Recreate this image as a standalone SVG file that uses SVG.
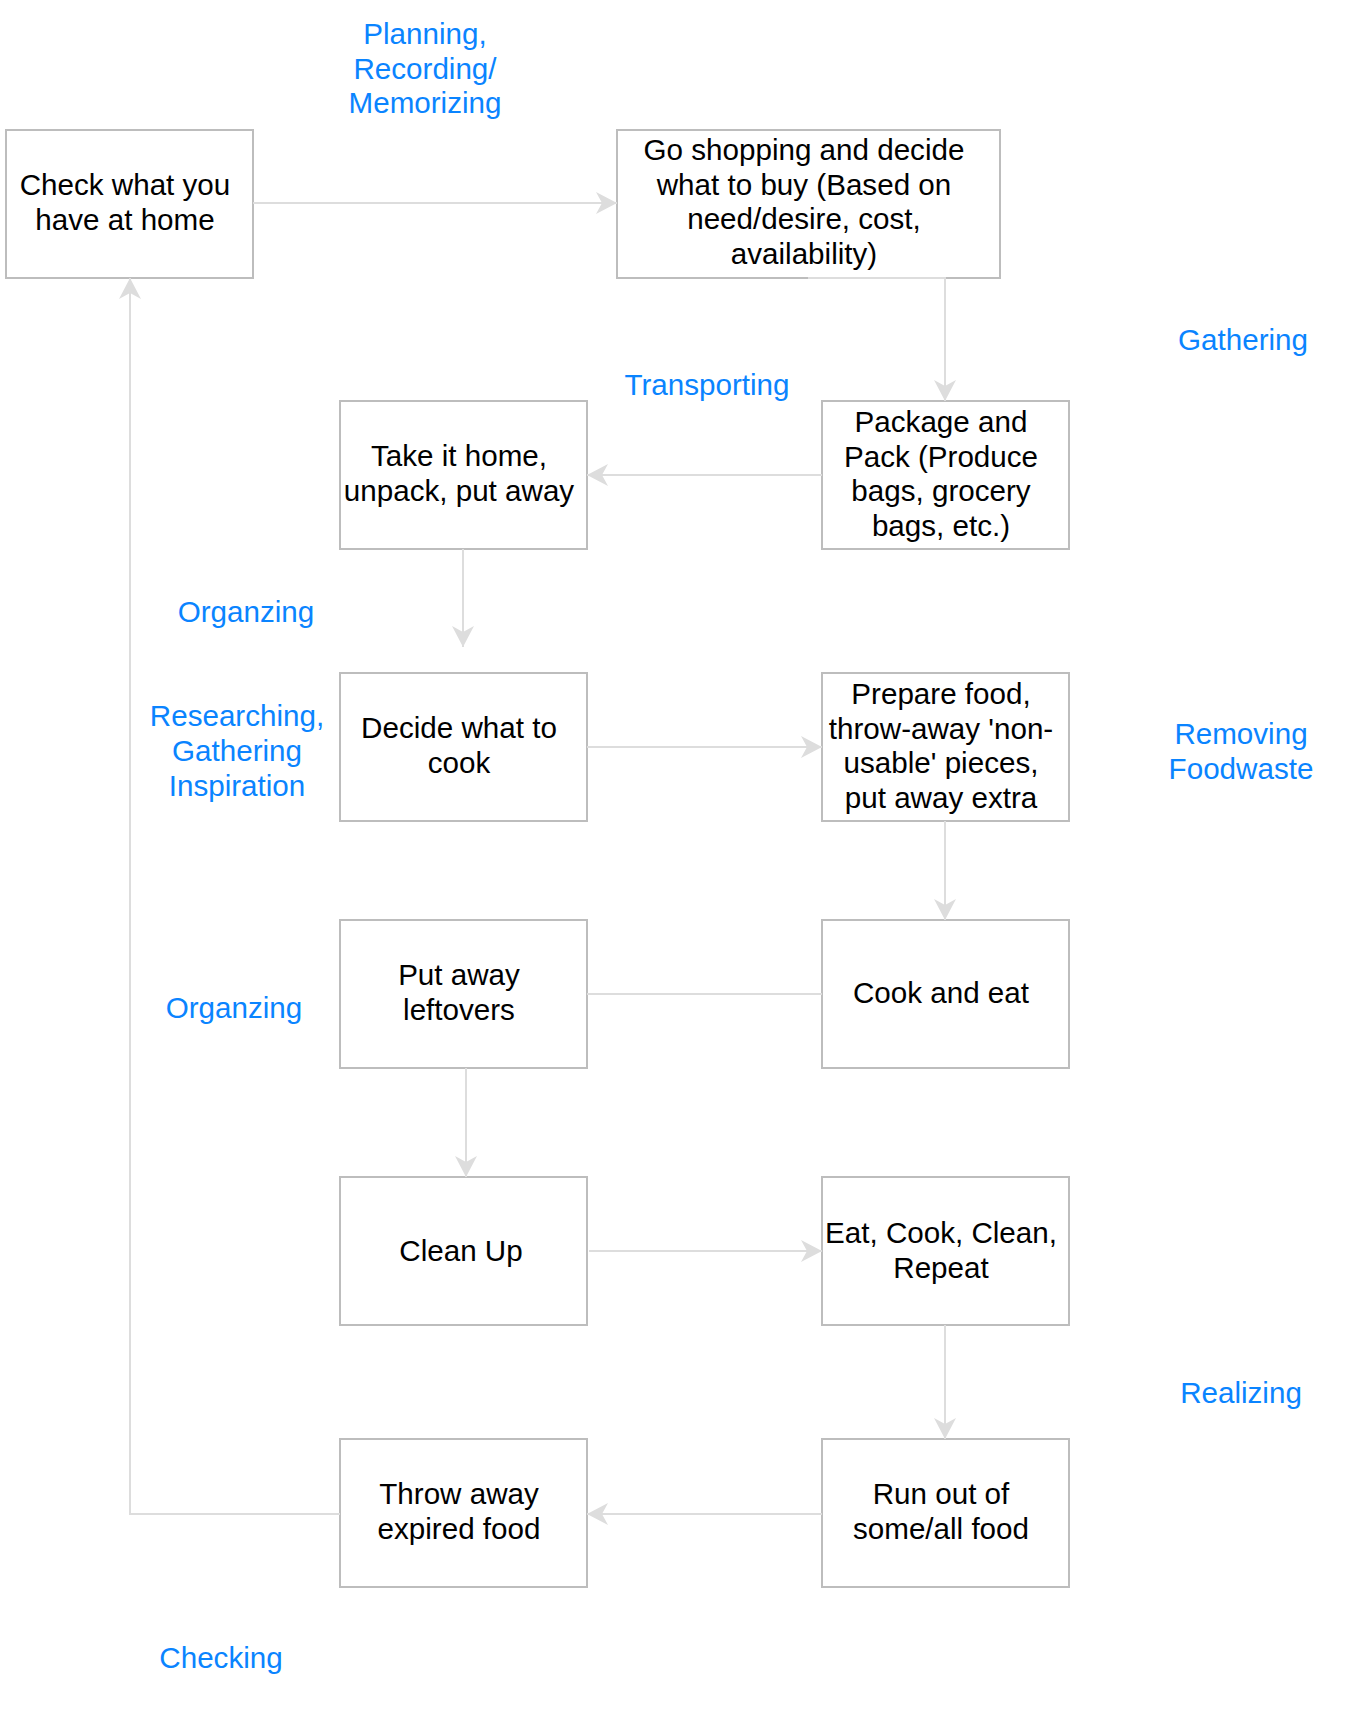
<svg xmlns="http://www.w3.org/2000/svg" width="1367" height="1720" viewBox="0 0 1367 1720">
<style>
.box{fill:#ffffff;stroke:#bdbdbd;stroke-width:2}
.t{font-family:"Liberation Sans",Arial,sans-serif;font-size:29.6px;fill:#000000;text-anchor:middle}
.lbl{font-family:"Liberation Sans",Arial,sans-serif;font-size:29.6px;fill:#0a84ff;text-anchor:middle}
.c{fill:none;stroke:#dddddd;stroke-width:2}
</style>
<defs>
<marker id="arr" markerUnits="userSpaceOnUse" markerWidth="24" markerHeight="24" refX="21" refY="11" orient="auto" viewBox="0 0 24 22">
<path d="M21,11 L0,0 L6,11 L0,22 Z" fill="#dddddd"/>
</marker>
</defs>
<rect width="1367" height="1720" fill="#ffffff"/>
<g id="nodes">
<g id="n-check"><rect class="box" x="6" y="130" width="247" height="148"/><text class="t"><tspan x="125" y="195">Check what you</tspan><tspan x="125" y="229.5">have at home</tspan></text></g>
<g id="n-shop"><rect class="box" x="617" y="130" width="383" height="148"/><text class="t"><tspan x="804" y="160">Go shopping and decide</tspan><tspan x="804" y="194.5">what to buy (Based on</tspan><tspan x="804" y="229">need/desire, cost,</tspan><tspan x="804" y="264">availability)</tspan></text></g>
<g id="n-package"><rect class="box" x="822" y="401" width="247" height="148"/><text class="t"><tspan x="941" y="432">Package and</tspan><tspan x="941" y="466.5">Pack (Produce</tspan><tspan x="941" y="501">bags, grocery</tspan><tspan x="941" y="536">bags, etc.)</tspan></text></g>
<g id="n-home"><rect class="box" x="340" y="401" width="247" height="148"/><text class="t"><tspan x="459" y="466">Take it home,</tspan><tspan x="459" y="501">unpack, put away</tspan></text></g>
<g id="n-decide"><rect class="box" x="340" y="673" width="247" height="148"/><text class="t"><tspan x="459" y="738">Decide what to</tspan><tspan x="459" y="773">cook</tspan></text></g>
<g id="n-prepare"><rect class="box" x="822" y="673" width="247" height="148"/><text class="t"><tspan x="941" y="704">Prepare food,</tspan><tspan x="941" y="738.5">throw-away 'non-</tspan><tspan x="941" y="773">usable' pieces,</tspan><tspan x="941" y="808">put away extra</tspan></text></g>
<g id="n-leftovers"><rect class="box" x="340" y="920" width="247" height="148"/><text class="t"><tspan x="459" y="985">Put away</tspan><tspan x="459" y="1020">leftovers</tspan></text></g>
<g id="n-cookeat"><rect class="box" x="822" y="920" width="247" height="148"/><text class="t"><tspan x="941" y="1003">Cook and eat</tspan></text></g>
<g id="n-clean"><rect class="box" x="340" y="1177" width="247" height="148"/><text class="t"><tspan x="461" y="1261">Clean Up</tspan></text></g>
<g id="n-repeat"><rect class="box" x="822" y="1177" width="247" height="148"/><text class="t"><tspan x="941" y="1243">Eat, Cook, Clean,</tspan><tspan x="941" y="1277.5">Repeat</tspan></text></g>
<g id="n-throw"><rect class="box" x="340" y="1439" width="247" height="148"/><text class="t"><tspan x="459" y="1504">Throw away</tspan><tspan x="459" y="1539">expired food</tspan></text></g>
<g id="n-runout"><rect class="box" x="822" y="1439" width="247" height="148"/><text class="t"><tspan x="941" y="1504">Run out of</tspan><tspan x="941" y="1539">some/all food</tspan></text></g>
</g>
<g id="connectors">
<path class="c" d="M253,203 H617" marker-end="url(#arr)"/>
<path class="c" d="M808,278 H945 V401" marker-end="url(#arr)"/>
<path class="c" d="M822,475 H587" marker-end="url(#arr)"/>
<path class="c" d="M463,549 V647" marker-end="url(#arr)"/>
<path class="c" d="M587,747 H822" marker-end="url(#arr)"/>
<path class="c" d="M945,821 V920" marker-end="url(#arr)"/>
<path class="c" d="M822,994 H587"/>
<path class="c" d="M466,1068 V1177" marker-end="url(#arr)"/>
<path class="c" d="M589,1251 H822" marker-end="url(#arr)"/>
<path class="c" d="M945,1325 V1439" marker-end="url(#arr)"/>
<path class="c" d="M822,1514 H587" marker-end="url(#arr)"/>
<path class="c" d="M340,1514 H130 V278" marker-end="url(#arr)"/>
</g>
<g id="labels">
<text class="lbl"><tspan x="425" y="44">Planning,</tspan><tspan x="425" y="78.5">Recording/</tspan><tspan x="425" y="113">Memorizing</tspan></text>
<text class="lbl" x="1243" y="350">Gathering</text>
<text class="lbl" x="707" y="395">Transporting</text>
<text class="lbl" x="246" y="622">Organzing</text>
<text class="lbl"><tspan x="237" y="726">Researching,</tspan><tspan x="237" y="761">Gathering</tspan><tspan x="237" y="796">Inspiration</tspan></text>
<text class="lbl"><tspan x="1241" y="744">Removing</tspan><tspan x="1241" y="778.5">Foodwaste</tspan></text>
<text class="lbl" x="234" y="1018">Organzing</text>
<text class="lbl" x="1241" y="1403">Realizing</text>
<text class="lbl" x="221" y="1668">Checking</text>
</g>
</svg>
